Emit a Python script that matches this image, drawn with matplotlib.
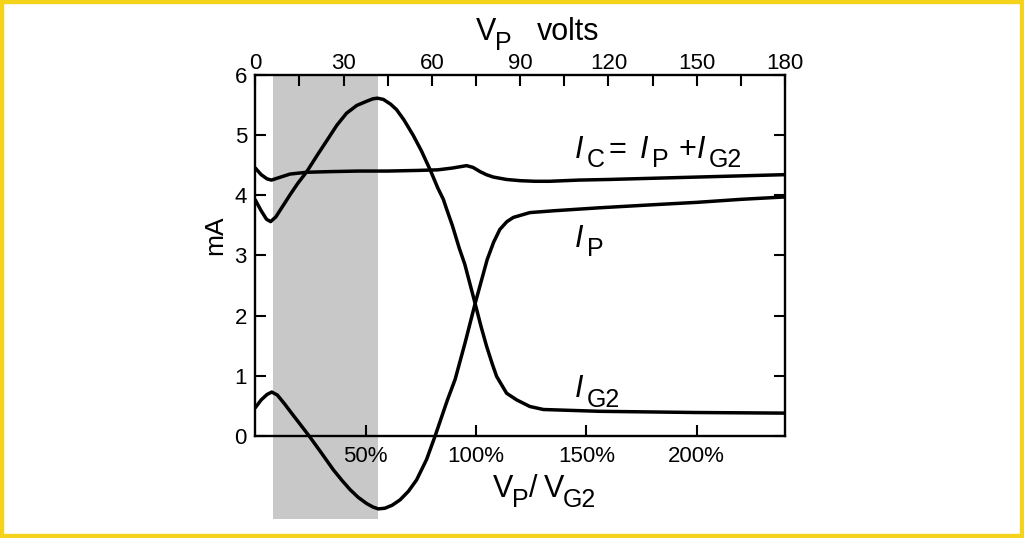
"""Tetrode characteristic: plate, screen-grid and cathode current against plate voltage."""
import matplotlib
matplotlib.use("Agg")
import matplotlib.pyplot as plt
from matplotlib.patches import Rectangle

# plate voltage (V), currents in mA
ip_v = [0, 2, 4, 5.6, 7.5, 10, 12, 15, 18.3, 22, 26.5, 29.5, 32.2, 35, 37.8, 40, 41.8,
        44, 46.5, 49.2, 52, 54.8, 58.2, 61.1, 65.3, 67.9, 71.3, 74.7, 78.8, 81, 83.1,
        85.5, 87.7, 93.3, 101.3, 117, 135, 150, 165, 180]
ip_ma = [0.47, 0.60, 0.69, 0.73, 0.68, 0.53, 0.40, 0.21, 0.0, -0.25, -0.56, -0.74, -0.89,
         -1.02, -1.12, -1.18, -1.21, -1.20, -1.15, -1.06, -0.92, -0.73, -0.39, 0.0, 0.60,
         0.94, 1.55, 2.2, 2.93, 3.22, 3.43, 3.56, 3.63, 3.71, 3.74, 3.79, 3.84, 3.88, 3.93, 3.97]

ig2_v = [0, 2, 3.8, 5.2, 7, 9.5, 12, 14.5, 17.5, 21, 24.5, 27.7, 31, 34.5, 37.9, 40, 41.5,
         43.5, 46, 48, 50.5, 53.7, 56.5, 59.6, 62, 63.9, 65, 67, 69.3, 71.2, 74.7, 76.7,
         78.6, 80.5, 82, 85.4, 88.8, 93.3, 97.9, 117, 150, 180]
ig2_ma = [3.92, 3.74, 3.60, 3.56, 3.64, 3.83, 4.02, 4.20, 4.39, 4.66, 4.92, 5.16, 5.36,
          5.49, 5.56, 5.60, 5.61, 5.59, 5.51, 5.42, 5.25, 4.99, 4.73, 4.40, 4.12, 3.93,
          3.77, 3.49, 3.12, 2.85, 2.2, 1.82, 1.49, 1.20, 0.99, 0.71, 0.60, 0.49, 0.44,
          0.41, 0.39, 0.38]

ic_v = [0, 2, 4, 5.5, 8, 11.8, 17.5, 25, 35, 45, 55, 62, 67, 71.8, 74, 76.4, 78.5, 80.9,
        85.4, 90, 95, 100, 110, 120, 135, 150, 165, 180]
ic_ma = [4.45, 4.34, 4.27, 4.25, 4.29, 4.35, 4.38, 4.39, 4.40, 4.40, 4.41, 4.42, 4.45,
         4.49, 4.46, 4.39, 4.34, 4.30, 4.26, 4.24, 4.23, 4.23, 4.25, 4.26, 4.28, 4.30,
         4.32, 4.34]

VG2 = 75  # screen voltage, 100% on the lower scale
pct_ticks = [50, 100, 150, 200]
volt_major = [0, 30, 60, 90, 120, 150, 180]
volt_minor = [15, 45, 75, 105, 135, 165]
ma_ticks = [0, 1, 2, 3, 4, 5, 6]
shade = (6.1, 41.7)

W, H = 1024, 538
plt.rcParams["font.family"] = "Liberation Sans"

fig = plt.figure(figsize=(W / 100, H / 100), dpi=100)
ax = fig.add_axes([255.3 / W, 1 - 518.5 / H, 529.7 / W, 443.8 / H])
ax.set_xlim(0, 180)
ax.set_ylim(-1.37, 6)

ax.axvspan(*shade, color="#c8c8c8", lw=0, zorder=0)
lw = 2.5
for xs, ys in ((ic_v, ic_ma), (ip_v, ip_ma), (ig2_v, ig2_ma)):
    ax.plot(xs, ys, color="black", lw=lw, solid_joinstyle="round", solid_capstyle="round")

# spines: box from 0 to 6 mA, curves allowed to dip below
spine_w = 1.7
ax.spines["top"].set_visible(False)
ax.spines["bottom"].set_position(("data", 0))
ax.spines["left"].set_bounds(0, 6)
ax.spines["right"].set_bounds(0, 6)
for s in ("bottom", "left", "right"):
    ax.spines[s].set_linewidth(spine_w)

TICK_FS = 16
ax.set_xticks([p / 100 * VG2 for p in pct_ticks])
ax.set_xticklabels([f"{p}%" for p in pct_ticks])
ax.set_yticks(ma_ticks)
ax.set_yticklabels([str(t) for t in ma_ticks])
ax.tick_params(axis="x", direction="in", length=8, width=1.5, pad=7, labelsize=TICK_FS)
ax.tick_params(axis="y", direction="in", length=8, width=1.5, pad=6, labelsize=TICK_FS,
               right=True, labelright=False)

top = ax.secondary_xaxis("top")
top.set_xticks(volt_major)
top.set_xticklabels([str(v) for v in volt_major])
top.set_xticks(volt_minor, minor=True)
top.spines["top"].set_linewidth(spine_w)
top.tick_params(which="both", direction="in", length=8, width=1.5, pad=0.5, labelsize=TICK_FS)


def put(x, y, s, size, style="normal"):
    """Text piece placed in pixel coords, baseline at y (from top)."""
    fig.text(x / W, 1 - y / H, s, fontsize=size, style=style, ha="left", va="baseline")


MAIN, SUB = 22, 18

fig.text(215 / W, 1 - 235 / H, "mA", rotation=90, ha="center", va="center", fontsize=19)

# top axis title: V_P  volts
put(476, 40, "V", MAIN)
put(495, 50, "P", SUB)
put(537, 40, "volts", MAIN)

# bottom axis title: V_P / V_G2
put(493, 497, "V", MAIN)
put(512, 507, "P", SUB)
put(529, 497, "/", MAIN)
put(544, 497, "V", MAIN)
put(563, 507, "G2", SUB)

# curve labels
put(575, 158, "I", MAIN, "italic")
put(587, 167, "C", SUB)
put(609, 158, "=", MAIN)
put(640, 158, "I", MAIN, "italic")
put(652, 167, "P", SUB)
put(678, 158, "+", MAIN)
put(697, 158, "I", MAIN, "italic")
put(709, 167, "G2", SUB)

put(575, 247, "I", MAIN, "italic")
put(587, 256, "P", SUB)

put(575, 397, "I", MAIN, "italic")
put(587, 407, "G2", SUB)

fig.patches.append(Rectangle((0, 0), 1, 1, transform=fig.transFigure, fill=False,
                             edgecolor="#f5d31a", linewidth=6))

fig.savefig("out.png", dpi=100)
